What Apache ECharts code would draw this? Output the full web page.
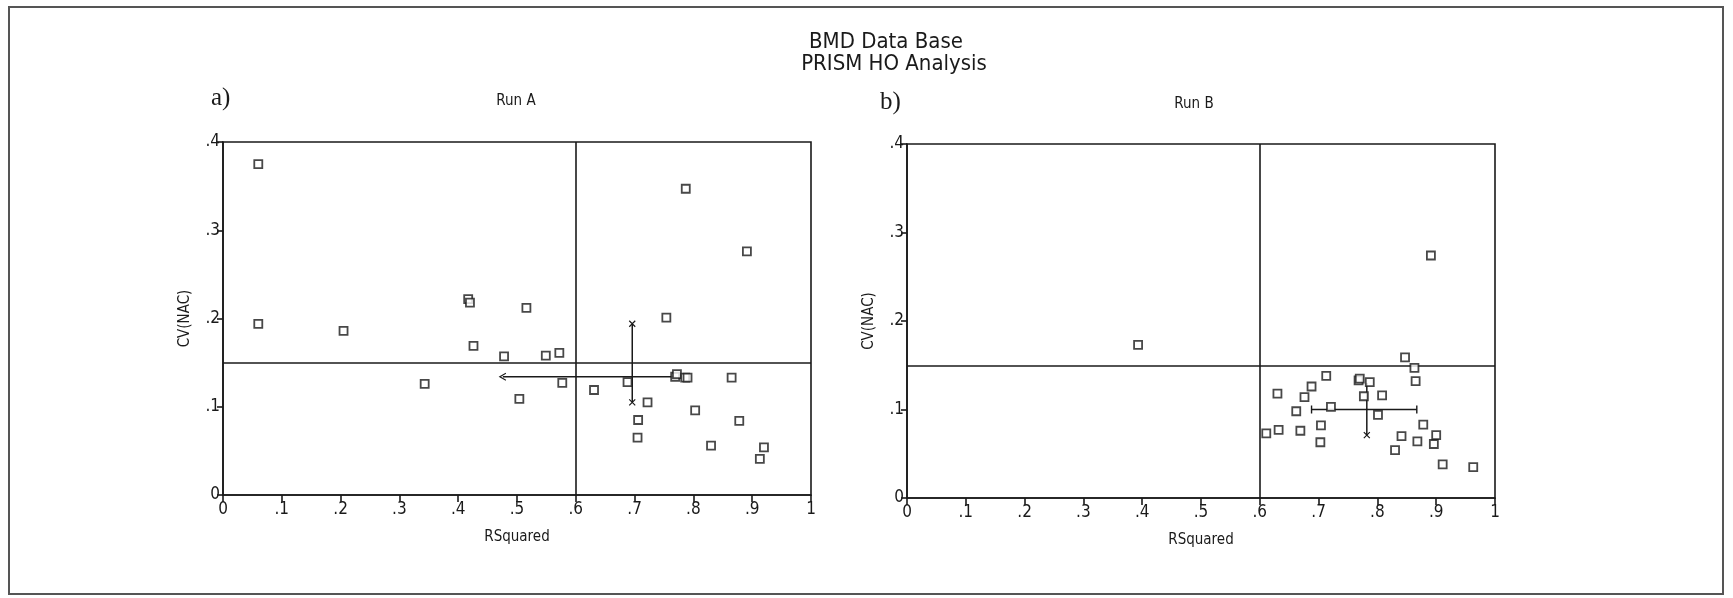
<!DOCTYPE html>
<html>
<head>
<meta charset="utf-8">
<title>BMD Data Base - PRISM HO Analysis</title>
<script src="https://cdn.jsdelivr.net/npm/echarts@6/dist/echarts.min.js"></script>
<style>
  html, body { margin: 0; padding: 0; background: #fff; }
  #chart { width: 1733px; height: 598px; }
</style>
</head>
<body>
<div id="chart"></div>
<script>
// ------------------------------------------------------------
// data (RSquared vs CV(NAC))
// ------------------------------------------------------------
const runA_rsq = [0.06, 0.06, 0.205, 0.343, 0.417, 0.420, 0.426, 0.478, 0.504, 0.516,
  0.549, 0.572, 0.577, 0.631, 0.688, 0.722, 0.706, 0.705, 0.754, 0.787,
  0.769, 0.772, 0.786, 0.790, 0.803, 0.830, 0.865, 0.878, 0.891, 0.920, 0.913];
const runA_cv = [0.375, 0.194, 0.186, 0.126, 0.222, 0.218, 0.169, 0.157, 0.109, 0.212,
  0.158, 0.161, 0.127, 0.119, 0.128, 0.105, 0.085, 0.065, 0.201, 0.347,
  0.134, 0.137, 0.133, 0.133, 0.096, 0.056, 0.133, 0.084, 0.276, 0.054, 0.041];

const runB_rsq = [0.393, 0.891, 0.847, 0.863, 0.865, 0.713, 0.768, 0.770, 0.787, 0.688,
  0.630, 0.676, 0.777, 0.808, 0.721, 0.662, 0.801, 0.704, 0.878, 0.611,
  0.632, 0.669, 0.841, 0.900, 0.703, 0.868, 0.896, 0.830, 0.911, 0.963];
const runB_cv = [0.173, 0.274, 0.159, 0.147, 0.132, 0.138, 0.133, 0.135, 0.131, 0.126,
  0.118, 0.114, 0.115, 0.116, 0.103, 0.098, 0.094, 0.082, 0.083, 0.073,
  0.077, 0.076, 0.070, 0.071, 0.063, 0.064, 0.061, 0.054, 0.038, 0.035];

// cut-off lines
const rsqCut = 0.6;
const cvCutA = 0.153;
const cvCutB = 0.154;

// mean / spread bars  [x, y] end points
const barA_h = [[0.476, 0.134], [0.770, 0.134]];
const barA_v = [[0.696, 0.105], [0.696, 0.194]];
const barB_h = [[0.688, 0.100], [0.867, 0.100]];
const barB_v = [[0.782, 0.071], [0.782, 0.130]];

// tick labels
const xTickLabels = ['0', '.1', '.2', '.3', '.4', '.5', '.6', '.7', '.8', '.9', '1'];
const yTickLabels = ['0', '.1', '.2', '.3', '.4'];

// ------------------------------------------------------------
const INK = '#1a1a1a';
const NARROW = "'Liberation Sans Narrow', 'DejaVu Sans Condensed', 'Roboto', sans-serif";
const X_MARK = 'path://M0,0L10,10M10,0L0,10';
const ARROW_L = 'path://M10,0L0,5L10,10';

const chart = echarts.init(document.getElementById('chart'));

function xAxisFor(gridIndex) {
  return {
    gridIndex, type: 'value', min: 0, max: 1, interval: 0.1,
    name: 'RSquared', nameLocation: 'middle', nameGap: 35,
    nameTextStyle: { color: INK, fontSize: 15, fontFamily: NARROW },
    axisLine: { onZero: false, lineStyle: { color: INK, width: 1.6 } },
    axisTick: { show: true, length: 7, lineStyle: { color: INK, width: 1.6 } },
    axisLabel: {
      color: INK, fontSize: 17, fontFamily: NARROW, margin: 6,
      formatter: v => xTickLabels[Math.round(v * 10)],
    },
    splitLine: { show: false },
  };
}

function yAxisFor(gridIndex) {
  return {
    gridIndex, type: 'value', min: 0, max: 0.4, interval: 0.1,
    name: 'CV(NAC)', nameLocation: 'middle', nameGap: 30,
    nameTextStyle: { color: INK, fontSize: 15, fontFamily: NARROW },
    axisLine: { onZero: false, lineStyle: { color: INK, width: 1.6 } },
    axisTick: { show: true, length: 6, lineStyle: { color: INK, width: 1.6 } },
    axisLabel: {
      color: INK, fontSize: 17, fontFamily: NARROW, margin: 3,
      formatter: v => yTickLabels[Math.round(v * 10)],
    },
    splitLine: { show: false },
  };
}

function pointsSeries(idx, xs, ys, cvCut) {
  return {
    type: 'scatter', xAxisIndex: idx, yAxisIndex: idx,
    data: xs.map((x, i) => [x, ys[i]]),
    symbol: 'rect', symbolSize: 8,
    itemStyle: { color: '#fff', borderColor: INK, borderWidth: 1.8 },
    z: 5,
    markLine: {
      silent: true, symbol: 'none', animation: false,
      label: { show: false },
      lineStyle: { color: INK, width: 1.6, type: 'solid' },
      data: [{ xAxis: rsqCut }, { yAxis: cvCut }],
    },
  };
}

function barSeries(idx, pts, endSymbols) {
  return {
    type: 'line', xAxisIndex: idx, yAxisIndex: idx,
    data: pts.map((p, i) => Object.assign({ value: p }, endSymbols[i])),
    showSymbol: true,
    lineStyle: { color: INK, width: 1.5 },
    itemStyle: { color: 'rgba(0,0,0,0)', borderColor: INK, borderWidth: 1.2 },
    z: 4, animation: false,
  };
}

const NONE = { symbol: 'none' };
const XM = { symbol: X_MARK, symbolSize: 6 };
const AR = { symbol: ARROW_L, symbolSize: [6, 7] };
const TK = { symbol: 'rect', symbolSize: [1.4, 8], itemStyle: { color: INK, borderWidth: 0 } };

chart.setOption({
  backgroundColor: '#fff',
  animation: false,
  grid: [
    { left: 223, top: 142, width: 588, height: 353, show: true, borderColor: INK, borderWidth: 1.6 },
    { left: 907, top: 144, width: 588, height: 354, show: true, borderColor: INK, borderWidth: 1.6 },
  ],
  xAxis: [xAxisFor(0), xAxisFor(1)],
  yAxis: [yAxisFor(0), yAxisFor(1)],
  graphic: [
    // outer frame
    { type: 'rect', shape: { x: 9, y: 7, width: 1714, height: 587 },
      style: { fill: 'none', stroke: '#555', lineWidth: 2 } },
    { type: 'text', x: 886, y: 31,
      style: { text: 'BMD Data Base', fill: INK, font: `normal 22px ${NARROW}`, align: 'center' } },
    { type: 'text', x: 894, y: 53,
      style: { text: 'PRISM HO Analysis', fill: INK, font: `normal 22px ${NARROW}`, align: 'center' } },
    { type: 'text', x: 211, y: 86,
      style: { text: 'a)', fill: INK, font: "normal 25px 'Liberation Serif', serif" } },
    { type: 'text', x: 880, y: 90,
      style: { text: 'b)', fill: INK, font: "normal 25px 'Liberation Serif', serif" } },
    { type: 'text', x: 516, y: 94,
      style: { text: 'Run A', fill: INK, font: `normal 15px ${NARROW}`, align: 'center' } },
    { type: 'text', x: 1194, y: 97,
      style: { text: 'Run B', fill: INK, font: `normal 15px ${NARROW}`, align: 'center' } },
  ],
  series: [
    pointsSeries(0, runA_rsq, runA_cv, cvCutA),
    pointsSeries(1, runB_rsq, runB_cv, cvCutB),
    barSeries(0, barA_h, [AR, NONE]),
    barSeries(0, barA_v, [XM, XM]),
    barSeries(1, barB_h, [TK, TK]),
    barSeries(1, barB_v, [XM, NONE]),
  ],
});
</script>
</body>
</html>
